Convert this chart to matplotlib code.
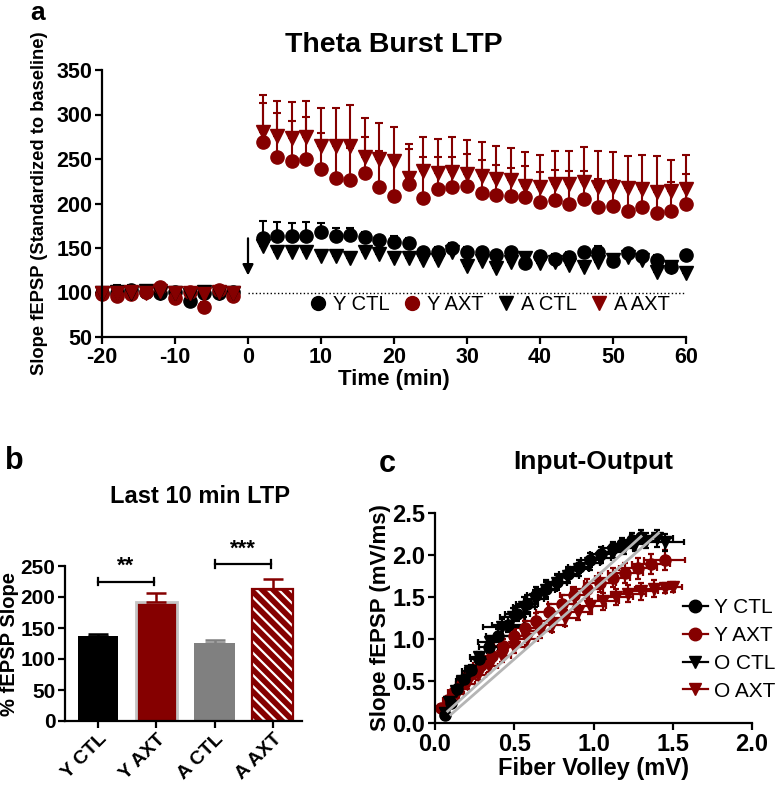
import numpy as np
import matplotlib
matplotlib.use('Agg')
import matplotlib.pyplot as plt
from matplotlib.lines import Line2D

plt.rcParams['font.family'] = ['Liberation Sans', 'DejaVu Sans']
plt.rcParams['font.weight'] = 'bold'
plt.rcParams['axes.unicode_minus'] = False
plt.rcParams['hatch.linewidth'] = 1.6

DARK_RED = '#850000'
GRAY = '#808080'

# ---- panel a: theta burst LTP time course ----
time = [-20, -18, -16, -14, -12, -10, -8, -6, -4, -2,
        2, 4, 6, 8, 10, 12, 14, 16, 18, 20,
        22, 24, 26, 28, 30, 32, 34, 36, 38, 40,
        42, 44, 46, 48, 50, 52, 54, 56, 58, 60]

y_ctl = [100, 100, 103, 101, 100, 101, 90, 99, 100, 101,
         161, 163, 163, 164, 168, 163, 165, 162, 159, 157,
         156, 145, 146, 150, 145, 145, 142, 145, 133, 141,
         138, 140, 145, 146, 135, 144, 141, 137, 129, 142]
y_ctl_sem = [4, 8, 5, 3, 4, 5, 6, 4, 3, 3,
             19, 16, 15, 15, 10, 10, 8, 6, 5, 6,
             5, 5, 5, 6, 6, 5, 5, 5, 6, 5,
             5, 5, 5, 6, 5, 5, 5, 5, 5, 5]

y_axt = [98, 96, 98, 101, 106, 94, 101, 84, 103, 96,
         269, 252, 248, 250, 239, 229, 226, 234, 219, 208,
         222, 206, 216, 218, 220, 212, 210, 208, 207, 202,
         204, 200, 205, 196, 197, 192, 196, 189, 192, 200]
y_axt_sem = [3, 4, 3, 4, 4, 5, 4, 5, 4, 4,
             44, 50, 45, 47, 40, 41, 36, 41, 40, 42,
             39, 46, 36, 34, 36, 37, 33, 32, 35, 33,
             34, 37, 32, 31, 29, 30, 26, 29, 32, 33]

a_ctl = [99, 101, 100, 102, 99, 100, 97, 101, 99, 100,
         152, 145, 145, 145, 141, 141, 139, 146, 143, 139,
         139, 137, 137, 146, 130, 135, 127, 134, 139, 133,
         134, 131, 129, 134, 137, 140, 137, 123, 129, 122]
a_ctl_sem = [3, 3, 3, 3, 3, 3, 3, 3, 3, 3,
             6, 5, 5, 5, 5, 5, 5, 5, 5, 5,
             5, 5, 5, 5, 5, 5, 5, 5, 5, 5,
             5, 5, 5, 5, 5, 5, 5, 5, 5, 5]

a_axt = [100, 99, 101, 100, 102, 99, 100, 98, 101, 99,
         280, 276, 274, 275, 265, 265, 265, 252, 250, 248,
         229, 237, 234, 235, 233, 231, 227, 226, 220, 218,
         222, 222, 224, 219, 219, 217, 216, 213, 214, 216]
a_axt_sem = [3, 3, 3, 3, 3, 3, 3, 3, 3, 3,
             42, 39, 40, 40, 42, 42, 46, 44, 40, 38,
             38, 38, 39, 40, 38, 38, 38, 36, 38, 37,
             37, 37, 39, 40, 39, 36, 39, 40, 35, 39]

# ---- panel b: last 10 min of LTP ----
groups = ['Y CTL', 'Y AXT', 'A CTL', 'A AXT']
ltp_mean = [137, 192, 126, 213]
ltp_sem = [3, 14, 4, 16]

# ---- panel c: input-output ----
ioy_ctl_x = [0.06, 0.10, 0.14, 0.18, 0.23, 0.28, 0.34, 0.40, 0.46, 0.52, 0.58,
             0.64, 0.70, 0.77, 0.84, 0.91, 0.98, 1.05, 1.12, 1.18, 1.24, 1.30]
ioy_ctl_y = [0.10, 0.24, 0.40, 0.52, 0.63, 0.76, 0.90, 1.04, 1.17, 1.30, 1.42,
             1.52, 1.60, 1.68, 1.77, 1.86, 1.94, 2.01, 2.08, 2.13, 2.18, 2.22]
ioy_ctl_xe = [0.02, 0.02, 0.03, 0.04, 0.04, 0.05, 0.06, 0.08, 0.10, 0.08, 0.07,
              0.06, 0.07, 0.06, 0.06, 0.07, 0.06, 0.07, 0.06, 0.07, 0.06, 0.07]
ioy_ctl_ye = [0.03, 0.04, 0.05, 0.05, 0.06, 0.06, 0.07, 0.08, 0.09, 0.09, 0.10,
              0.10, 0.10, 0.09, 0.09, 0.08, 0.08, 0.08, 0.07, 0.07, 0.08, 0.08]

ioo_ctl_x = [0.06, 0.09, 0.13, 0.17, 0.22, 0.28, 0.35, 0.42, 0.49, 0.56, 0.63, 0.70,
             0.77, 0.84, 0.91, 0.98, 1.05, 1.12, 1.19, 1.26, 1.33, 1.40, 1.45]
ioo_ctl_y = [0.12, 0.25, 0.38, 0.50, 0.62, 0.78, 0.96, 1.14, 1.26, 1.38, 1.48, 1.58,
             1.67, 1.75, 1.83, 1.90, 1.97, 2.03, 2.08, 2.13, 2.17, 2.20, 2.15]
ioo_ctl_xe = [0.02, 0.03, 0.03, 0.04, 0.05, 0.06, 0.08, 0.12, 0.08, 0.07, 0.06, 0.06,
              0.06, 0.07, 0.06, 0.06, 0.06, 0.07, 0.06, 0.07, 0.08, 0.10, 0.12]
ioo_ctl_ye = [0.03, 0.04, 0.05, 0.05, 0.06, 0.07, 0.08, 0.10, 0.11, 0.12, 0.10, 0.10,
              0.09, 0.08, 0.08, 0.08, 0.07, 0.07, 0.07, 0.08, 0.09, 0.10, 0.10]

ioy_axt_x = [0.04, 0.08, 0.12, 0.17, 0.23, 0.29, 0.36, 0.43, 0.50, 0.57, 0.64,
             0.72, 0.80, 0.88, 0.96, 1.04, 1.12, 1.20, 1.28, 1.36, 1.45]
ioy_axt_y = [0.18, 0.27, 0.37, 0.47, 0.58, 0.69, 0.80, 0.92, 1.03, 1.13, 1.22,
             1.32, 1.42, 1.52, 1.60, 1.67, 1.73, 1.79, 1.84, 1.89, 1.94]
ioy_axt_xe = [0.03, 0.03, 0.04, 0.04, 0.05, 0.05, 0.06, 0.06, 0.07, 0.07, 0.08,
              0.08, 0.09, 0.09, 0.10, 0.10, 0.11, 0.11, 0.12, 0.12, 0.13]
ioy_axt_ye = [0.04, 0.05, 0.05, 0.06, 0.06, 0.07, 0.07, 0.08, 0.08, 0.09, 0.09,
              0.10, 0.10, 0.10, 0.11, 0.11, 0.11, 0.12, 0.12, 0.12, 0.12]

ioo_axt_x = [0.05, 0.09, 0.14, 0.20, 0.27, 0.34, 0.42, 0.50, 0.58, 0.66, 0.74,
             0.82, 0.90, 0.98, 1.06, 1.14, 1.22, 1.30, 1.38, 1.45, 1.50]
ioo_axt_y = [0.15, 0.25, 0.35, 0.46, 0.57, 0.68, 0.80, 0.91, 1.00, 1.09, 1.17,
             1.25, 1.32, 1.39, 1.45, 1.50, 1.54, 1.57, 1.60, 1.61, 1.62]
ioo_axt_xe = [0.03, 0.03, 0.04, 0.05, 0.05, 0.06, 0.06, 0.07, 0.07, 0.08, 0.08,
              0.09, 0.09, 0.10, 0.10, 0.11, 0.11, 0.11, 0.12, 0.06, 0.06]
ioo_axt_ye = [0.04, 0.05, 0.05, 0.06, 0.06, 0.07, 0.07, 0.08, 0.08, 0.08, 0.09,
              0.09, 0.09, 0.09, 0.10, 0.10, 0.10, 0.10, 0.10, 0.06, 0.06]

# regression lines (start x, end x, start y, end y)
fit_x = [[0.08, 1.30], [0.10, 1.41]]
fit_y = [[0.14, 2.22], [0.10, 2.26]]


def style_axes(ax, size):
    for s in ['top', 'right']:
        ax.spines[s].set_visible(False)
    for s in ['left', 'bottom']:
        ax.spines[s].set_linewidth(1.6)
    ax.tick_params(width=1.6, length=5, labelsize=size, direction='out', pad=2)


fig = plt.figure(figsize=(7.8, 7.86), dpi=100)

# ================= a =================
ax1 = fig.add_axes([102 / 780, 1 - 337 / 786, 584 / 780, 267 / 786])
ax1.plot([0, 60], [100, 100], ':', color='k', lw=1)
zeros = np.zeros(len(time))
series = [
    (y_ctl, y_ctl_sem, 'o', 'k', 'Y CTL'),
    (y_axt, y_axt_sem, 'o', DARK_RED, 'Y AXT'),
    (a_ctl, a_ctl_sem, 'v', 'k', 'A CTL'),
    (a_axt, a_axt_sem, 'v', DARK_RED, 'A AXT'),
]
handles = []
for mean, sem, mk, col, lab in series:
    ax1.errorbar(time, mean, yerr=[zeros, sem], fmt=mk, color=col, ms=9.5,
                 capsize=3, elinewidth=1.5, capthick=1.5, clip_on=False)
    handles.append(Line2D([], [], ls='none', marker=mk, color=col, ms=10, label=lab))
ax1.annotate('', xy=(0, 116), xytext=(0, 164),
             arrowprops=dict(arrowstyle='-|>', color='k', lw=1.6, mutation_scale=16))
ax1.set_xlim(-20, 60)
ax1.set_ylim(50, 350)
ax1.set_xticks(range(-20, 61, 10))
ax1.set_yticks(range(50, 351, 50))
style_axes(ax1, 15.5)
ax1.set_xlabel('Time (min)', fontsize=16, fontweight='bold', labelpad=1)
ax1.set_ylabel('Slope fEPSP (Standardized to baseline)', fontsize=13.2,
               fontweight='bold', labelpad=6)
ax1.legend(handles=handles, loc='center', bbox_to_anchor=(0.661, 0.12), ncol=4,
           frameon=False, prop={'weight': 'normal', 'size': 14.5},
           handletextpad=0.15, columnspacing=0.5, handlelength=1.2)
fig.text(394 / 780, 1 - 45 / 786, 'Theta Burst LTP', ha='center', va='center',
         fontsize=20.5, fontweight='bold')
fig.text(38 / 780, 1 - 1 / 786, 'a', ha='center', va='top', fontsize=19,
         fontweight='bold')

# ================= b =================
ax2 = fig.add_axes([65 / 780, 1 - 721 / 786, 237 / 780, 155 / 786])
pos = np.arange(len(groups))
bw = 0.70
face = ['k', DARK_RED, GRAY, DARK_RED]
errc = ['k', DARK_RED, GRAY, DARK_RED]
for i in range(len(groups)):
    if i == 1:
        ax2.bar(pos[i], ltp_mean[i], bw, color=face[i], edgecolor='#c4c4c4', lw=2)
    elif i == 3:
        ax2.bar(pos[i], ltp_mean[i], bw, color=face[i], edgecolor='white',
                hatch='\\\\\\', lw=0)
        ax2.bar(pos[i], ltp_mean[i], bw, fill=False, edgecolor=DARK_RED, lw=1.6)
    else:
        ax2.bar(pos[i], ltp_mean[i], bw, color=face[i], lw=0)
    ax2.errorbar(pos[i], ltp_mean[i], yerr=[[0], [ltp_sem[i]]], fmt='none',
                 ecolor=errc[i], elinewidth=1.8, capsize=7, capthick=1.8)


def bracket(ax, x0, x1, y, text):
    ax.plot([x0, x1], [y, y], color='k', lw=1.6, clip_on=False)
    ax.plot([x0, x0], [y - 6, y + 6], color='k', lw=1.6, clip_on=False)
    ax.plot([x1, x1], [y - 6, y + 6], color='k', lw=1.6, clip_on=False)
    ax.text((x0 + x1) / 2, y + 7, text, ha='center', va='bottom', fontsize=16,
            fontweight='bold')


bracket(ax2, 0, 0.96, 225, '**')
bracket(ax2, 2, 2.96, 253, '***')
ax2.set_xlim(-0.566, 3.5)
ax2.set_ylim(0, 250)
ax2.set_yticks(range(0, 251, 50))
ax2.set_xticks(pos)
style_axes(ax2, 15)
ax2.set_xticklabels(groups, rotation=45, ha='right', rotation_mode='anchor',
                    fontsize=14)
ax2.set_ylabel('% fEPSP Slope', fontsize=14.5, fontweight='bold')
ax2.yaxis.set_label_coords(-0.195, 0.5)
fig.text(200 / 780, 1 - 497 / 786, 'Last 10 min LTP', ha='center', va='center',
         fontsize=17, fontweight='bold')
fig.text(14 / 780, 1 - 461 / 786, 'b', ha='center', va='center', fontsize=22,
         fontweight='bold')

# ================= c =================
ax3 = fig.add_axes([435 / 780, 1 - 723 / 786, 317 / 780, 210 / 786])
io_series = [
    (ioy_axt_x, ioy_axt_y, ioy_axt_xe, ioy_axt_ye, 'o', DARK_RED, 'Y AXT'),
    (ioo_axt_x, ioo_axt_y, ioo_axt_xe, ioo_axt_ye, 'v', DARK_RED, 'O AXT'),
    (ioo_ctl_x, ioo_ctl_y, ioo_ctl_xe, ioo_ctl_ye, 'v', 'k', 'O CTL'),
    (ioy_ctl_x, ioy_ctl_y, ioy_ctl_xe, ioy_ctl_ye, 'o', 'k', 'Y CTL'),
]
for x, y, xe, ye, mk, col, lab in io_series:
    ax3.errorbar(x, y, xerr=xe, yerr=ye, fmt=mk, color=col, ms=8, capsize=2.5,
                 elinewidth=1.6, capthick=1.6, clip_on=False)
for fx, fy in zip(fit_x, fit_y):
    ax3.plot(fx, fy, color='#b5b5b5', lw=2, zorder=5)
ax3.set_xlim(0, 2)
ax3.set_ylim(0, 2.5)
ax3.set_xticks(np.arange(0, 2.01, 0.5))
ax3.set_yticks(np.arange(0, 2.51, 0.5))
ax3.xaxis.set_major_formatter(plt.FormatStrFormatter('%.1f'))
ax3.yaxis.set_major_formatter(plt.FormatStrFormatter('%.1f'))
style_axes(ax3, 17)
ax3.set_xlabel('Fiber Volley (mV)', fontsize=17, fontweight='bold', labelpad=1)
ax3.set_ylabel('Slope fEPSP (mV/ms)', fontsize=16, fontweight='bold', labelpad=1)
leg_items = [('Y CTL', 'o', 'k'), ('Y AXT', 'o', DARK_RED),
             ('O CTL', 'v', 'k'), ('O AXT', 'v', DARK_RED)]
leg_handles = [Line2D([], [], color=c, marker=m, ms=9, lw=1.6, label=l)
               for l, m, c in leg_items]
ax3.legend(handles=leg_handles, loc='center left', bbox_to_anchor=(0.755, 0.35),
           frameon=False, prop={'weight': 'normal', 'size': 15},
           handlelength=1.2, handletextpad=0.3, labelspacing=0.42,
           borderaxespad=0)
fig.text(593 / 780, 1 - 462 / 786, 'Input-Output', ha='center', va='center',
         fontsize=19, fontweight='bold')
fig.text(387 / 780, 1 - 464 / 786, 'c', ha='center', va='center', fontsize=22,
         fontweight='bold')

fig.savefig('out.png', dpi=100)
